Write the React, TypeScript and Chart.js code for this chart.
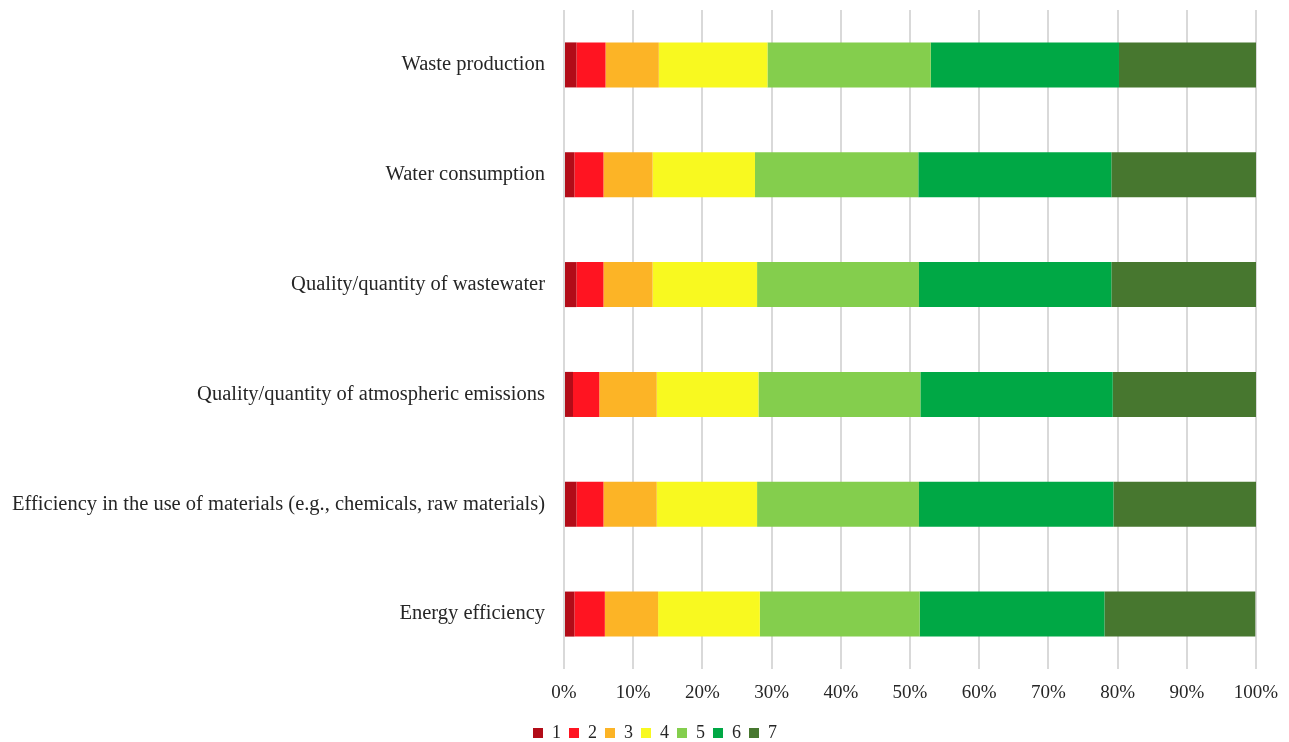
import React, { useEffect, useRef } from "react";
import { Chart, registerables } from "chart.js";

Chart.register(...registerables);

// Aspects assessed, top to bottom
const categories = [
  "Waste production",
  "Water consumption",
  "Quality/quantity of wastewater",
  "Quality/quantity of atmospheric emissions",
  "Efficiency in the use of materials (e.g., chemicals, raw materials)",
  "Energy efficiency",
];

// Share of answers (%) per score, one array per score 1..7
const score1 = [1.8, 1.5, 1.8, 1.3, 1.8, 1.5];
const score2 = [4.2, 4.2, 3.9, 3.8, 3.9, 4.4];
const score3 = [7.7, 7.1, 7.1, 8.3, 7.7, 7.7];
const score4 = [15.7, 14.8, 15.1, 14.7, 14.5, 14.7];
const score5 = [23.6, 23.6, 23.4, 23.4, 23.4, 23.1];
const score6 = [27.2, 27.9, 27.8, 27.8, 28.1, 26.7];
const score7 = [19.8, 20.9, 20.9, 20.7, 20.7, 21.8];

const scoreLabels = ["1", "2", "3", "4", "5", "6", "7"];
const scoreColors = ["#B20C18", "#FF1421", "#FCB426", "#F8F920", "#84CE4D", "#00A845", "#47772F"];
const scoreSeries = [score1, score2, score3, score4, score5, score6, score7];

const xTicks = [0, 10, 20, 30, 40, 50, 60, 70, 80, 90, 100];

const FONT = "'Liberation Serif', 'Times New Roman', serif";
const TEXT = "#262626";

const PLOT_LEFT = 564;
const LEGEND_SHIFT = 27;

// Nudges the bottom legend to the right so it sits under the middle of the bars
const legendShift = {
  id: "legendShift",
  afterLayout(chart: any) {
    const lg = chart.legend;
    if (!lg) return;
    lg.left += LEGEND_SHIFT;
    lg.right += LEGEND_SHIFT;
    if (lg.legendHitBoxes) {
      lg.legendHitBoxes.forEach((b: any) => {
        b.left += LEGEND_SHIFT;
      });
    }
  },
};

export default function App() {
  const canvasRef = useRef<HTMLCanvasElement | null>(null);

  useEffect(() => {
    document.body.style.margin = "0";
    const canvas = canvasRef.current;
    if (!canvas) return;
    const chart = new Chart(canvas, {
      type: "bar",
      data: {
        labels: categories,
        datasets: scoreSeries.map((values, i) => ({
          label: scoreLabels[i],
          data: values,
          backgroundColor: scoreColors[i],
          borderWidth: 0,
          barPercentage: 0.41,
          categoryPercentage: 1,
        })),
      },
      options: {
        indexAxis: "y",
        animation: false,
        responsive: false,
        maintainAspectRatio: false,
        layout: { padding: { top: 10, right: 33, bottom: -10, left: 0 } },
        scales: {
          x: {
            stacked: true,
            min: 0,
            max: 100,
            afterBuildTicks: (scale: any) => {
              scale.ticks = xTicks.map((v) => ({ value: v }));
            },
            afterFit: (scale: any) => {
              scale.height = 47;
              scale.paddingLeft = 0;
              scale.paddingRight = 0;
            },
            grid: { color: "#D9D9D9", lineWidth: 2, drawTicks: false },
            border: { display: false },
            ticks: {
              padding: 13,
              color: TEXT,
              font: { family: FONT, size: 19 },
              callback: (v: any) => v + "%",
            },
          },
          y: {
            stacked: true,
            afterFit: (scale: any) => {
              scale.width = PLOT_LEFT;
              scale.paddingTop = 0;
              scale.paddingBottom = 0;
            },
            grid: { display: false, drawTicks: false },
            border: { display: false },
            ticks: {
              padding: 19,
              color: TEXT,
              font: { family: FONT, size: 20.5 },
            },
          },
        },
        plugins: {
          legend: {
            position: "bottom",
            labels: {
              boxWidth: 10,
              boxHeight: 10,
              padding: 8,
              color: TEXT,
              font: { family: FONT, size: 18 },
            },
          },
          tooltip: { enabled: false },
        },
      },
      plugins: [legendShift],
    });
    return () => chart.destroy();
  }, []);

  return (
    <div style={{ width: 1289, height: 742 }}>
      <canvas ref={canvasRef} width={1289} height={742} style={{ display: "block" }} />
    </div>
  );
}
